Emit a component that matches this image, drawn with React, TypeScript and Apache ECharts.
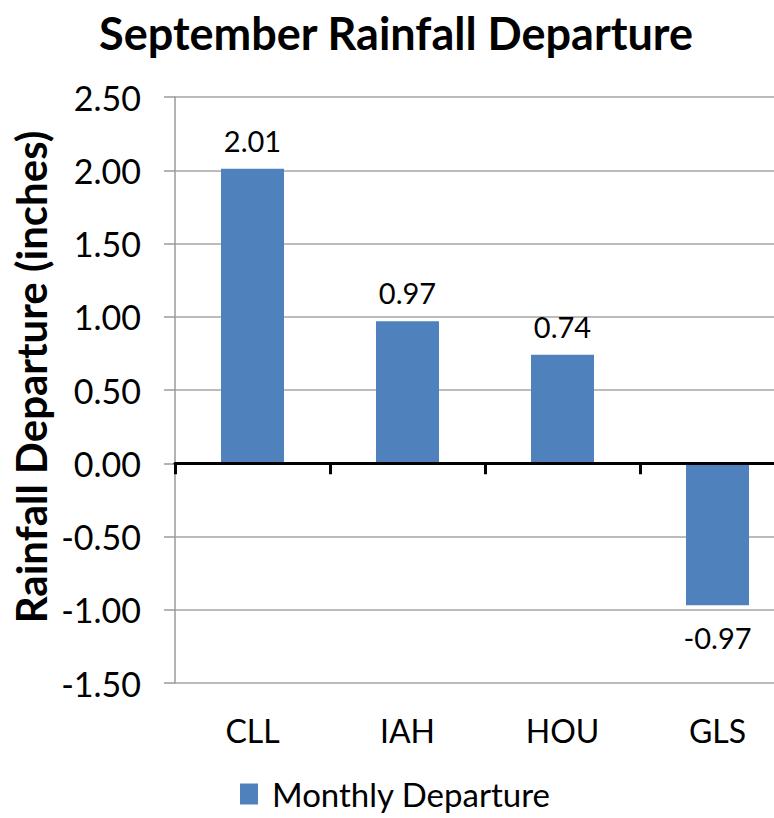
import React, { useEffect, useRef } from "react";
import * as echarts from "echarts";

const categories = ["CLL", "IAH", "HOU", "GLS"];
const departures = [2.01, 0.97, 0.74, -0.97];
const seriesName = "Monthly Departure";
const chartTitle = "September Rainfall Departure";
const yAxisTitle = "Rainfall Departure (inches)";

const FONT = "Lato";

export default function App() {
  const ref = useRef<HTMLDivElement>(null);
  useEffect(() => {
    document.body.style.margin = "0";
    if (!ref.current) return;
    const chart = echarts.init(ref.current, null, { renderer: "svg" });
    chart.setOption({
      animation: false,
      backgroundColor: "#ffffff",
      textStyle: { fontFamily: FONT },
      graphic: [
        {
          type: "text",
          x: 396,
          y: 33,
          style: {
            text: chartTitle,
            font: `bold 45px ${FONT}`,
            fill: "#000",
            textAlign: "center",
            textVerticalAlign: "middle",
          },
        },
        {
          type: "text",
          x: 31,
          y: 377,
          rotation: Math.PI / 2,
          style: {
            text: yAxisTitle,
            font: `bold 42px ${FONT}`,
            fill: "#000",
            textAlign: "center",
            textVerticalAlign: "middle",
          },
        },
      ],
      legend: {
        data: [seriesName],
        left: 235,
        top: 771,
        itemWidth: 18,
        itemHeight: 21,
        icon: "rect",
        textStyle: {
          fontSize: 33,
          color: "#000",
          fontFamily: FONT,
          lineHeight: 36,
          padding: [0, 0, 0, 9],
        },
      },
      grid: {
        left: 175,
        top: 97,
        right: -21,
        bottom: 135,
        containLabel: false,
        outerBoundsMode: "none",
      },
      xAxis: [
        {
          type: "category",
          data: categories,
          position: "bottom",
          axisLine: { show: false, onZero: false },
          axisTick: { show: false },
          axisLabel: { fontSize: 32, color: "#000", margin: 31, fontFamily: FONT },
          splitLine: { show: false },
        },
        {
          type: "category",
          data: categories,
          position: "bottom",
          z: 5,
          axisLine: { show: true, onZero: true, lineStyle: { color: "#000", width: 3 } },
          axisTick: { show: true, length: 11, lineStyle: { color: "#000", width: 3 } },
          axisLabel: { show: false },
          splitLine: { show: false },
        },
      ],
      yAxis: {
        type: "value",
        min: -1.5,
        max: 2.5,
        interval: 0.5,
        axisLine: { show: true, lineStyle: { color: "#9a9a9a", width: 1.5 } },
        axisTick: { show: true, length: 11, lineStyle: { color: "#9a9a9a", width: 1.5 } },
        axisLabel: {
          fontSize: 34,
          color: "#000",
          margin: 34,
          fontFamily: FONT,
          formatter: (v: number) => v.toFixed(2),
        },
        splitLine: { show: true, lineStyle: { color: "#a6a6a6", width: 1.5 } },
      },
      series: [
        {
          name: seriesName,
          type: "bar",
          xAxisIndex: 0,
          barWidth: 63,
          itemStyle: { color: "#4F81BD" },
          data: departures.map((v) => ({
            value: v,
            label: {
              show: true,
              position: v < 0 ? "bottom" : "top",
              distance: v < 0 ? 18 : 14,
              fontSize: 29,
              color: "#000",
              fontFamily: FONT,
              formatter: (p: any) => Number(p.value).toFixed(2),
            },
          })),
        },
      ],
    });
    return () => chart.dispose();
  }, []);
  return <div ref={ref} style={{ width: 774, height: 818 }} />;
}
